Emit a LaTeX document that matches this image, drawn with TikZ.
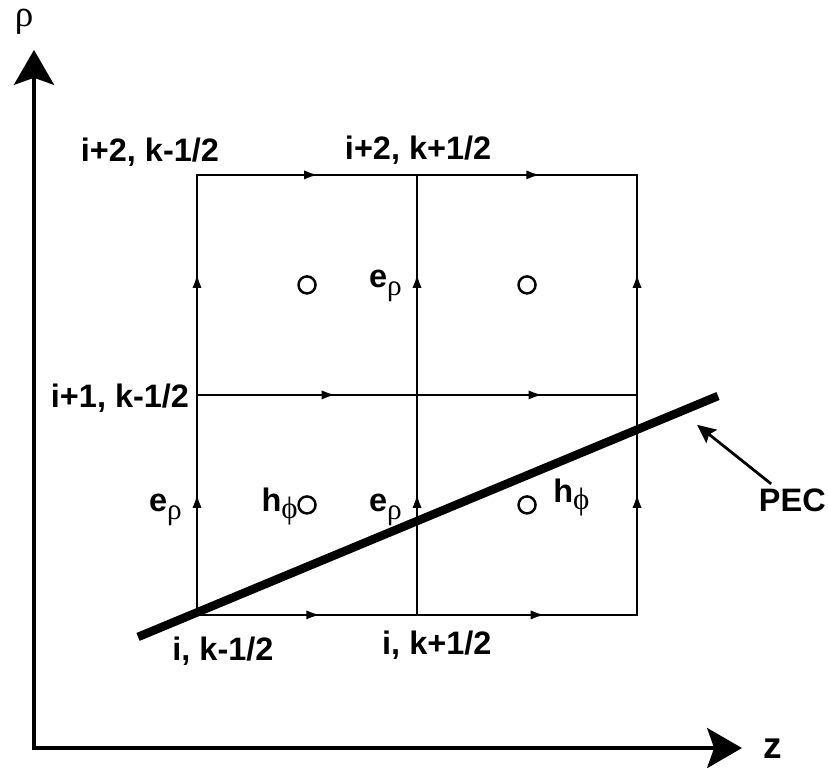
\documentclass[tikz,border=0pt]{standalone}
\usepackage{fontspec}
\setmainfont{Liberation Sans}
\newfontfamily\grk{Liberation Serif}
\usepackage{tikz}
\usetikzlibrary{arrows.meta, calc, decorations.markings}
\newcommand{\gsub}[3][6pt]{\raisebox{-#1}{\fontsize{#2}{#2}\selectfont\mdseries\grk #3}}
\newcommand{\erho}{e\gsub[5pt]{19}{ρ}}
\newcommand{\hphi}{h\gsub[4pt]{20}{ϕ}}

\begin{document}
\begin{tikzpicture}[x=5cm, y=5cm,
	font=\bfseries\fontsize{21}{25}\selectfont,
	axis/.style={line width=2.8pt, {Stealth[length=22.5pt, width=25.8pt, inset=4.5pt]}-{Stealth[length=22.5pt, width=25.8pt, inset=4.5pt]}},
	cellEdge/.style={line width=1.5pt, line cap=rect, postaction={decorate},
		decoration={markings, mark=at position #1 with {\arrow{Latex[length=9pt, width=6pt]}}}},
	cellEdge/.default=0.55,
	hdot/.style={circle, draw, line width=1.6pt, minimum size=11pt, inner sep=0pt},
	pec/.style={line width=5.5pt},
	pointer/.style={line width=1.8pt, -{Stealth[length=12pt, width=11pt, inset=2pt]}}]
					\useasboundingbox (-0.8955,-0.695) rectangle (2.868,2.795);
					
					% axes
					\coordinate (origin) at (-0.741,-0.605);
					\coordinate (rhoEnd) at (-0.741,2.568);
					\coordinate (zEnd) at (2.477,-0.605);
					\draw[axis] (rhoEnd) -- (origin) -- (zEnd);
					\node[font=\grk\mdseries\fontsize{24}{24}\selectfont] (rhoLab) at (-0.786,2.695) {ρ};
					\node[font=\bfseries\fontsize{24}{24}\selectfont] (zLab) at (2.618,-0.609) {z};
					
					% grid of cells
					\foreach \c in {0,1,2}
						\foreach \r in {0,1,2}
							\coordinate (g\c\r) at (\c,\r);
					\foreach \r/\p/\q in {0/0.56/0.58, 1/0.63/0.57, 2/0.55/0.56} {
						\draw[cellEdge=\p] (g0\r) -- (g1\r);
						\draw[cellEdge=\q] (g1\r) -- (g2\r);
					}
					\foreach \c in {0,1,2} {
						\draw[cellEdge] (g\c0) -- (g\c1);
						\draw[cellEdge] (g\c1) -- (g\c2);
					}
					\foreach \c in {0,1}
						\foreach \r in {0,1}
							\node[hdot] (h\c\r) at (\c+0.5,\r+0.5) {};
					
					% conductor
					\coordinate (pecA) at (-0.268,-0.1);
					\coordinate (pecB) at (2.368,0.995);
					\draw[pec] (pecA) -- (pecB);
					\node[anchor=base] (pecLab) at (2.706,0.468) {PEC};
					\coordinate (pecTip) at (2.273,0.864);
					\draw[pointer] (pecLab) -- (pecTip);
					
					% index labels
					\node[anchor=base] (labTopLeft) at (-0.214,2.059) {i+2, k-1/2};
					\node[anchor=base] (labTopMid) at (1.005,2.068) {i+2, k+1/2};
					\node[anchor=base] (labMidLeft) at (-0.35,0.945) {i+1, k-1/2};
					\node[anchor=base] (labBotLeft) at (0.118,-0.205) {i, k-1/2};
					\node[anchor=base] (labBotMid) at (1.09,-0.182) {i, k+1/2};
					
					% field labels
					\node[anchor=base east, inner sep=0pt] (eUpMid) at (0.932,1.486) {\erho};
					\node[anchor=base east, inner sep=0pt] (eLowLeft) at (-0.068,0.468) {\erho};
					\node[anchor=base east, inner sep=0pt] (eLowMid) at (0.932,0.468) {\erho};
					\node[anchor=base east, inner sep=0pt] (hLowLeft) at (0.459,0.468) {\hphi};
					\node[anchor=base west, inner sep=0pt] (hLowRight) at (1.618,0.509) {\hphi};
				\end{tikzpicture}
\end{document}
